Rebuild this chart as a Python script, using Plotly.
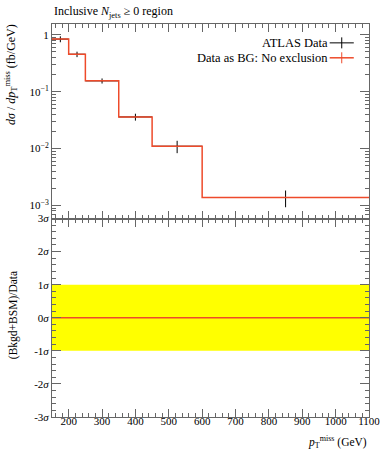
import plotly.graph_objects as go

# ---- data ----
bin_edges = [150, 200, 250, 350, 450, 600, 1100]
bin_centers = [175, 225, 300, 400, 525, 850]
data_values = [0.84, 0.455, 0.155, 0.036, 0.011, 0.00138]
data_errors = [0.10, 0.05, 0.016, 0.005, 0.0027, 0.00045]
bg_values = [0.84, 0.455, 0.155, 0.036, 0.011, 0.00138]
ratio_values = [0, 0, 0, 0, 0, 0]
band_upper = [1, 1, 1, 1, 1, 1, 1]
band_lower = [-1, -1, -1, -1, -1, -1, -1]
x_ticks = [200, 300, 400, 500, 600, 700, 800, 900, 1000, 1100]
y_ticks = [1, 0.1, 0.01, 0.001]
y_ticktext = ["1", "10<sup>−1</sup>", "10<sup>−2</sup>", "10<sup>−3</sup>"]
r_ticks = [3, 2, 1, 0, -1, -2, -3]
r_ticktext = ["3<i>σ</i>", "2<i>σ</i>", "1<i>σ</i>", "0<i>σ</i>", "-1<i>σ</i>", "-2<i>σ</i>", "-3<i>σ</i>"]

FONT = "Liberation Serif"
RED = "#ee4a2a"
AX = "#666666"

half_widths = [(bin_edges[i + 1] - bin_edges[i]) / 2 for i in range(len(bin_centers))]

fig = go.Figure()

# ratio band
fig.add_trace(go.Scatter(x=bin_edges, y=band_lower, mode="lines", line=dict(width=0),
                         xaxis="x2", yaxis="y2", showlegend=False, hoverinfo="skip"))
fig.add_trace(go.Scatter(x=bin_edges, y=band_upper, mode="lines", line=dict(width=0),
                         fill="tonexty", fillcolor="#ffff00",
                         xaxis="x2", yaxis="y2", showlegend=False, hoverinfo="skip"))
fig.add_trace(go.Scatter(x=bin_edges, y=ratio_values + [ratio_values[-1]], mode="lines",
                         line=dict(color=RED, width=1.5, shape="hv"),
                         xaxis="x2", yaxis="y2", showlegend=False))

# data points
fig.add_trace(go.Scatter(x=bin_centers, y=data_values, mode="markers",
                         marker=dict(size=1, color="black"),
                         error_y=dict(type="data", array=data_errors, color="black", thickness=1, width=0),
                         error_x=dict(type="data", array=half_widths, color="black", thickness=1, width=0),
                         xaxis="x", yaxis="y", showlegend=False))
# background step line
fig.add_trace(go.Scatter(x=bin_edges, y=bg_values + [bg_values[-1]], mode="lines",
                         line=dict(color=RED, width=1.5, shape="hv"),
                         xaxis="x", yaxis="y", showlegend=False))

log_minor = []
for dec in [1e-4, 1e-3, 1e-2, 1e-1, 1]:
    for m in range(2, 10):
        log_minor.append(m * dec)

common_x = dict(range=[150, 1100], showline=True, linecolor=AX, linewidth=1, mirror="ticks",
                ticks="inside", ticklen=8, tickcolor=AX, tickvals=x_ticks,
                minor=dict(ticks="inside", ticklen=4, dtick=20, tick0=0, tickcolor=AX),
                showgrid=False, zeroline=False)

fig.update_layout(
    width=392, height=450,
    margin=dict(l=52, r=12, t=24, b=33),
    paper_bgcolor="white", plot_bgcolor="white",
    font=dict(family=FONT, size=11, color="black"),
    showlegend=False,
    xaxis=dict(common_x, anchor="y", showticklabels=False, matches="x2"),
    xaxis2=dict(common_x, anchor="y2", showticklabels=True, tickfont=dict(size=11),
                ticklabelstandoff=-6),
    yaxis=dict(domain=[0.505, 1], type="log", range=[-3.23, 0.19], showline=True, linecolor=AX,
               mirror="ticks", ticks="inside", ticklen=9, tickcolor=AX,
               tickvals=y_ticks, ticktext=y_ticktext, tickfont=dict(size=11),
               minor=dict(ticks="inside", ticklen=4, tickvals=log_minor, tickcolor=AX),
               showgrid=False, zeroline=False, anchor="x"),
    yaxis2=dict(domain=[0, 0.505], range=[-3, 3], showline=True, linecolor=AX,
                mirror="ticks", ticks="inside", ticklen=9, tickcolor=AX,
                tickvals=r_ticks, ticktext=r_ticktext, tickfont=dict(size=11),
                minor=dict(ticks="inside", ticklen=4, dtick=0.2, tick0=0, tickcolor=AX),
                showgrid=False, zeroline=False, anchor="x2"),
)

# titles
fig.add_annotation(text="Inclusive <i>N</i><sub>jets</sub> ≥ 0 region", xref="paper", yref="paper",
                   x=0, y=1.031, xanchor="left", yanchor="middle", showarrow=False,
                   font=dict(size=12))
fig.add_annotation(text="<i>dσ</i> / <i>dp</i><sub>T</sub><sup>miss</sup> (fb/GeV)", xref="paper", yref="paper",
                   x=-0.128, y=1.005, xanchor="center", yanchor="top", textangle=-90, showarrow=False,
                   font=dict(size=12))
fig.add_annotation(text="(Bkgd+BSM)/Data", xref="paper", yref="paper",
                   x=-0.122, y=0.26, xanchor="center", yanchor="middle", textangle=-90, showarrow=False,
                   font=dict(size=11.5))
fig.add_annotation(text="<i>p</i><sub>T</sub><sup>miss</sup> (GeV)", xref="paper", yref="paper",
                   x=1.0, y=-0.063, xanchor="right", yanchor="middle", showarrow=False,
                   font=dict(size=11.5))

# legend (text left, sample right)
legend_rows = [("ATLAS Data", "black", 0.952), ("Data as BG: No exclusion", RED, 0.914)]
for label, col, yy in legend_rows:
    fig.add_annotation(text=label, xref="paper", yref="paper", x=0.878, y=yy,
                       xanchor="right", yanchor="middle", showarrow=False, font=dict(size=12.5))
    fig.add_shape(type="line", xref="paper", yref="paper", x0=0.876, x1=0.952, y0=yy, y1=yy,
                  line=dict(color=col, width=1.5 if col == RED else 1))
    fig.add_shape(type="line", xref="paper", yref="paper", x0=0.914, x1=0.914, y0=yy - 0.014, y1=yy + 0.014,
                  line=dict(color=col, width=1))

fig.write_html("out.html", config={"displayModeBar": False},
               post_script="document.body.style.margin='0';")
